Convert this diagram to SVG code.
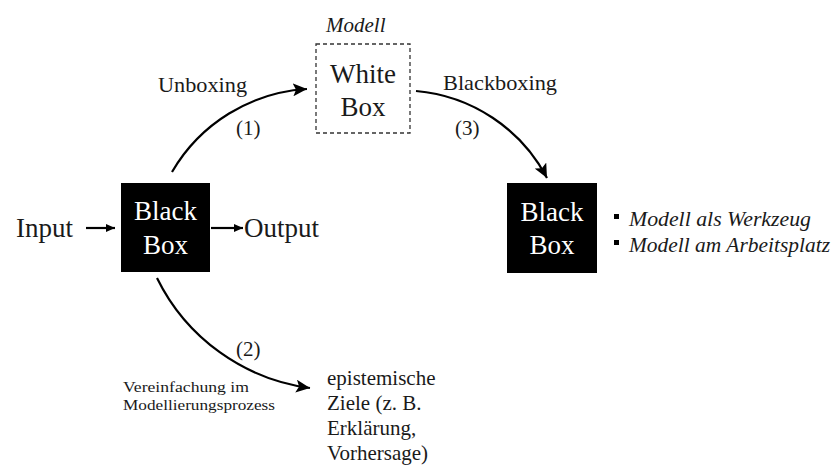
<svg xmlns="http://www.w3.org/2000/svg" width="837" height="466" viewBox="0 0 837 466" font-family="'Liberation Serif', 'Times New Roman', Times, 'DejaVu Serif', serif">
<style>
  text { font-family: 'Liberation Serif', 'Times New Roman', Times, 'DejaVu Serif', serif; fill: #1a1a1a; }
  .big { font-size: 27px; }
  .boxtxt { font-size: 27px; fill: #ffffff; text-anchor: middle; }
  .lbl { font-size: 21px; }
  .it { font-style: italic; }
  .small { font-size: 15px; }
  .conn { fill: none; stroke: #000; stroke-width: 2.2; }
</style>
<defs>
  <marker id="ah" markerUnits="userSpaceOnUse" markerWidth="15" markerHeight="13" refX="14" refY="6.5" orient="auto">
    <path d="M0,0 L14,6.5 L0,13 L3,6.5 Z" fill="#000"/>
  </marker>
  <marker id="ahs" markerUnits="userSpaceOnUse" markerWidth="10" markerHeight="8" refX="9" refY="4" orient="auto">
    <path d="M0,0 L9,4 L0,8 Z" fill="#000"/>
  </marker>
</defs>
<rect width="837" height="466" fill="#ffffff"/>

<g id="input">
  <text class="big" x="16" y="237">Input</text>
</g>
<g id="blackbox1">
  <rect x="121" y="183" width="89" height="89" fill="#000"/>
  <text class="boxtxt" x="165.5" y="220">Black</text>
  <text class="boxtxt" x="165.5" y="254">Box</text>
</g>
<g id="output">
  <text class="big" x="244" y="237">Output</text>
</g>
<g id="whitebox">
  <text class="lbl it" x="326" y="32">Modell</text>
  <rect x="316" y="44" width="94" height="89" fill="#fff" stroke="#333" stroke-width="1.3" stroke-dasharray="4,3"/>
  <text class="big" x="363" y="83" text-anchor="middle">White</text>
  <text class="big" x="363" y="116" text-anchor="middle">Box</text>
</g>
<g id="blackbox2">
  <rect x="507" y="183" width="90" height="90" fill="#000"/>
  <text class="boxtxt" x="552" y="221">Black</text>
  <text class="boxtxt" x="552" y="254">Box</text>
</g>
<g id="bullets">
  <rect x="614" y="214" width="5" height="5" fill="#000"/>
  <text class="lbl it" x="629" y="226" textLength="182" lengthAdjust="spacingAndGlyphs">Modell als Werkzeug</text>
  <rect x="614" y="240" width="5" height="5" fill="#000"/>
  <text class="lbl it" x="629" y="252" textLength="201" lengthAdjust="spacingAndGlyphs">Modell am Arbeitsplatz</text>
</g>
<g id="ziele">
  <text class="lbl" x="327" y="385">epistemische</text>
  <text class="lbl" x="327" y="410">Ziele (z. B.</text>
  <text class="lbl" x="327" y="435">Erklärung,</text>
  <text class="lbl" x="327" y="460">Vorhersage)</text>
</g>

<g id="connectors">
  <line class="conn" x1="86" y1="228" x2="115" y2="228" marker-end="url(#ahs)"/>
  <line class="conn" x1="211" y1="228" x2="243" y2="228" marker-end="url(#ahs)"/>
  <path class="conn" d="M172,172 A167.5,167.5 0 0,1 307,89" marker-end="url(#ah)"/>
  <path class="conn" d="M416,91 A164,164 0 0,1 547,178" marker-end="url(#ah)"/>
  <path class="conn" d="M157,278 A199.5,199.5 0 0,0 310,388" marker-end="url(#ah)"/>
</g>

<g id="labels">
  <text class="lbl" x="158" y="92" textLength="89" lengthAdjust="spacingAndGlyphs">Unboxing</text>
  <text class="lbl" x="443" y="90" textLength="114" lengthAdjust="spacingAndGlyphs">Blackboxing</text>
  <text class="lbl" x="236" y="135">(1)</text>
  <text class="lbl" x="455" y="135">(3)</text>
  <text class="lbl" x="236" y="356">(2)</text>
  <text class="small" x="123" y="392" textLength="126" lengthAdjust="spacingAndGlyphs">Vereinfachung im</text>
  <text class="small" x="123" y="410" textLength="152" lengthAdjust="spacingAndGlyphs">Modellierungsprozess</text>
</g>
</svg>
